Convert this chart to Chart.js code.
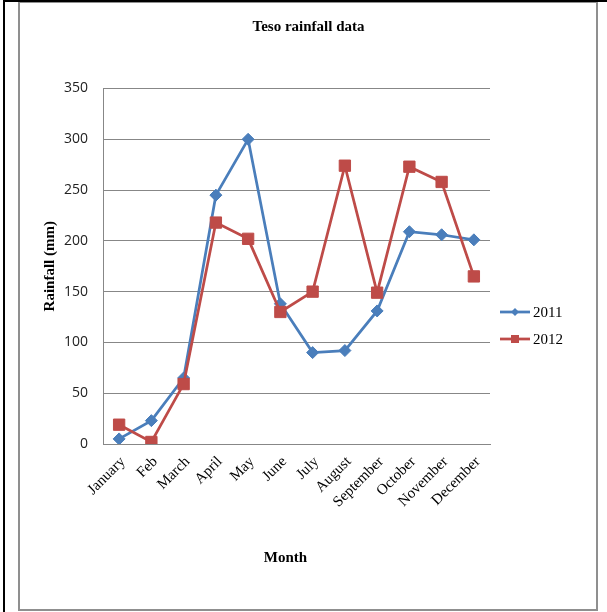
<!DOCTYPE html>
<html>
<head>
<meta charset="utf-8">
<title>Teso rainfall data</title>
<script src="https://cdn.jsdelivr.net/npm/chart.js@4.4.1/dist/chart.umd.min.js"></script>
<style>
  html, body { margin: 0; padding: 0; background: #ffffff; }
  canvas { display: block; }
</style>
</head>
<body>
<canvas id="rainChart" width="607" height="612"></canvas>
<script>
// Monthly rainfall (mm) recorded in Teso
const months = ['January', 'Feb', 'March', 'April', 'May', 'June', 'July', 'August', 'September', 'October', 'November', 'December'];
const rain2011 = [5, 23, 65, 245, 300, 138, 90, 92, 131, 209, 206, 201];
const rain2012 = [19, 2, 59, 218, 202, 130, 150, 274, 149, 273, 258, 165];
const seriesLabels = ['2011', '2012'];
const chartTitle = 'Teso rainfall data';
const xAxisTitle = 'Month';
const yAxisTitle = 'Rainfall (mm)';
const yMax = 350;
const yStep = 50;

const BLUE = '#4A7EBB';
const RED = '#BE4B48';
const GRID = '#878787';
const SERIF = '"Liberation Serif", "Times New Roman", serif';

// Page frame around the chart
const framePlugin = {
  id: 'frame',
  beforeDraw(chart) {
    const ctx = chart.ctx;
    ctx.save();
    ctx.fillStyle = '#ffffff';
    ctx.fillRect(0, 0, chart.width, chart.height);
    ctx.strokeStyle = '#8f8f8f';
    ctx.lineWidth = 2;
    ctx.strokeRect(19, 2, 578, 608);
    ctx.fillStyle = '#000000';
    ctx.fillRect(3, 0, 2, chart.height);
    ctx.fillRect(3, 0, chart.width - 3, 2);
    ctx.restore();
  }
};

// Chart title and category-axis title, placed within the frame
const titlesPlugin = {
  id: 'titles',
  afterDraw(chart) {
    const ctx = chart.ctx;
    ctx.save();
    ctx.fillStyle = '#000000';
    ctx.font = 'bold 15px ' + SERIF;
    ctx.textAlign = 'center';
    ctx.textBaseline = 'middle';
    ctx.fillText(chartTitle, 308.5, 27);
    ctx.fillText(xAxisTitle, 285.5, 558);
    ctx.restore();
  }
};

// Legend on the right: line sample with the series marker and its label
const sideLegend = {
  id: 'sideLegend',
  afterDraw(chart) {
    const ctx = chart.ctx;
    const x0 = 500, x1 = 530, rows = [312, 339];
    ctx.save();
    chart.data.datasets.forEach((ds, i) => {
      const y = rows[i];
      ctx.strokeStyle = ds.borderColor;
      ctx.lineWidth = 2.75;
      ctx.beginPath();
      ctx.moveTo(x0, y);
      ctx.lineTo(x1, y);
      ctx.stroke();
      ctx.fillStyle = ds.borderColor;
      const cx = (x0 + x1) / 2;
      ctx.beginPath();
      if (ds.pointStyle === 'rectRot') {
        const r = 4;
        ctx.moveTo(cx - r, y); ctx.lineTo(cx, y - r); ctx.lineTo(cx + r, y); ctx.lineTo(cx, y + r);
      } else {
        const s = 4;
        ctx.rect(cx - s, y - s, 2 * s, 2 * s);
      }
      ctx.closePath();
      ctx.fill();
      ctx.fillStyle = '#000000';
      ctx.font = '15px ' + SERIF;
      ctx.textAlign = 'left';
      ctx.textBaseline = 'middle';
      ctx.fillText(ds.label, 533, y + 1);
    });
    ctx.restore();
  }
};

new Chart(document.getElementById('rainChart'), {
  type: 'line',
  data: {
    labels: months,
    datasets: [
      {
        label: seriesLabels[0],
        data: rain2011,
        borderColor: BLUE,
        backgroundColor: BLUE,
        borderWidth: 2.75,
        pointStyle: 'rectRot',
        pointRadius: 6,
        pointBorderWidth: 1,
        pointBackgroundColor: BLUE,
        pointBorderColor: BLUE,
        tension: 0,
        order: 1
      },
      {
        label: seriesLabels[1],
        data: rain2012,
        borderColor: RED,
        backgroundColor: RED,
        borderWidth: 2.75,
        pointStyle: 'rect',
        pointRadius: 8,
        pointBorderWidth: 1,
        pointBackgroundColor: RED,
        pointBorderColor: RED,
        tension: 0,
        order: 0
      }
    ]
  },
  options: {
    responsive: false,
    animation: false,
    devicePixelRatio: 1,
    layout: { padding: { left: 20, top: 88.5, right: 117, bottom: 0 } },
    plugins: {
      legend: { display: false },
      tooltip: { enabled: false },
      title: { display: false }
    },
    scales: {
      x: {
        offset: true,
        grid: { display: false, drawTicks: false },
        border: { display: true, color: GRID, width: 1 },
        ticks: {
          color: '#000000',
          font: { family: SERIF, size: 15 },
          minRotation: 45,
          maxRotation: 45,
          autoSkip: false,
          labelOffset: 4,
          padding: 9
        },
        afterFit(scale) { scale.height = 612 - 444; }
      },
      y: {
        min: 0,
        max: yMax,
        grid: { color: GRID, lineWidth: 1, drawTicks: false },
        border: { display: true, color: GRID, width: 1 },
        ticks: {
          stepSize: yStep,
          color: '#222222',
          font: { family: '"Open Sans", sans-serif', size: 14 },
          padding: 15
        },
        title: {
          display: true,
          text: yAxisTitle,
          color: '#000000',
          font: { family: SERIF, size: 15, weight: 'bold', lineHeight: 1.2 },
          padding: { top: 21, bottom: 0 }
        },
        afterFit(scale) { scale.width = 83; }
      }
    }
  },
  plugins: [framePlugin, titlesPlugin, sideLegend]
});
</script>
</body>
</html>
